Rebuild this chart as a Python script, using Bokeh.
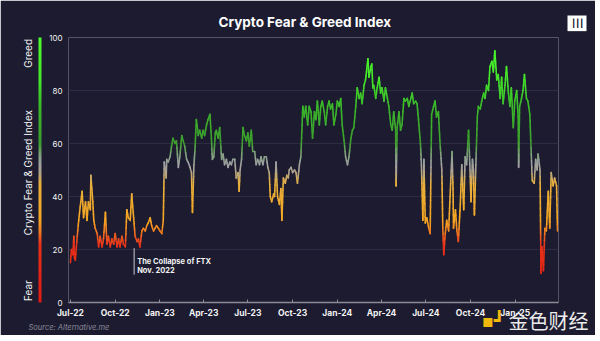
import numpy as np
import pandas as pd
from bokeh.plotting import figure
from bokeh.models import (ColumnDataSource, FixedTicker, Label, ColorBar,
                          LinearColorMapper, Range1d, Title)
from bokeh.embed import file_html
from bokeh.resources import INLINE

# ---------------- data ----------------
start_date = "2022-07-01"
day_offsets = [
    0, 2, 5, 7, 8, 10, 14, 17, 20, 24, 27, 31, 34, 37, 41, 42, 46, 48, 51, 55,
    58, 61, 65, 68, 72, 75, 78, 82, 85, 89, 92, 96, 99, 102, 106, 109, 113, 116, 119, 123,
    126, 130, 133, 137, 140, 143, 147, 150, 154, 157, 160, 164, 167, 171, 174, 177, 181, 184, 188, 191,
    193, 197, 198, 201, 205, 208, 211, 215, 218, 222, 225, 229, 232, 235, 239, 242, 246, 249, 251, 254,
    256, 259, 263, 266, 270, 273, 276, 280, 283, 287, 290, 292, 295, 298, 300, 304, 307, 311, 314, 317,
    321, 324, 328, 331, 334, 338, 341, 345, 347, 349, 352, 355, 358, 362, 365, 368, 372, 375, 379, 382,
    385, 389, 392, 396, 399, 403, 406, 409, 411, 414, 418, 420, 423, 426, 430, 433, 435, 438, 442, 445,
    448, 450, 454, 457, 461, 464, 467, 471, 474, 478, 481, 484, 488, 491, 495, 498, 502, 505, 508, 512,
    515, 518, 522, 525, 529, 532, 535, 539, 542, 546, 549, 553, 556, 559, 563, 566, 570,
    573, 577, 580, 583, 587, 590, 594, 597, 600, 604, 607, 609, 612, 614, 618, 620, 622, 624, 628, 631,
    635, 638, 641, 645, 648, 652, 655, 659, 662, 665, 669, 670, 672, 676, 679, 682, 686, 689, 693, 696,
    699, 703, 706, 710, 713, 716, 720, 722, 725, 727, 730, 733, 737, 740, 743, 747, 750, 753,
    757, 760, 764, 766, 768, 771, 774, 778, 781, 785, 787, 788, 792, 795, 798, 802, 805, 809, 812, 815,
    819, 822, 824, 827, 829, 831, 834, 837, 839, 843, 846, 850, 853, 856, 860, 863, 867, 870, 873, 877,
    880, 884, 887, 890, 894, 897, 901, 904, 907, 911, 914, 918, 921, 922, 924, 928, 931, 934, 938, 941,
    945, 947, 950, 954, 957, 960, 962, 966, 968, 970, 973, 976, 979, 983, 986, 989, 993, 996, 1000, 1002,
]
fg_index = [
    15, 20, 18, 25, 17, 16, 25, 31, 36, 42, 32, 38, 31, 38, 35, 48, 38, 31, 28, 26,
    21, 25, 21, 24, 34, 22, 25, 21, 24, 22, 26, 21, 24, 21, 25, 22, 21, 35, 32, 31,
    41, 32, 25, 23, 24, 21, 27, 28, 27, 29, 30, 32, 29, 27, 28, 29, 28, 27, 26, 31,
    53, 47, 54, 53, 55, 59, 62, 60, 61, 51, 55, 63, 61, 59, 54, 53, 51, 49, 34, 52,
    57, 69, 63, 65, 62, 65, 63, 67, 69, 71, 62, 54, 55, 64, 65, 62, 66, 54, 56, 52,
    54, 51, 53, 52, 54, 54, 47, 49, 42, 50, 54, 66, 63, 61, 64, 59, 65, 57, 57, 52,
    54, 52, 55, 52, 55, 55, 51, 49, 40, 38, 41, 40, 53, 40, 37, 43, 31, 47, 45, 48,
    47, 50, 51, 49, 50, 49, 45, 52, 55, 74, 70, 74, 67, 74, 72, 62, 72, 69, 76, 67,
    74, 76, 72, 67, 74, 76, 73, 75, 67, 71, 76, 74, 77, 67, 61, 55, 52,
    55, 62, 65, 66, 74, 81, 77, 79, 75, 82, 84, 87, 92, 85, 89, 90, 81, 82, 77, 81,
    85, 79, 81, 76, 81, 77, 74, 67, 65, 72, 65, 44, 66, 72, 65, 67, 77, 76, 77, 74,
    76, 79, 75, 76, 75, 69, 60, 52, 31, 54, 30, 32, 28, 26, 71, 74, 76, 70,
    72, 61, 50, 28, 18, 26, 31, 27, 40, 57, 43, 28, 35, 27, 23, 37, 52, 35, 55, 52,
    65, 50, 38, 54, 50, 33, 52, 70, 74, 73, 76, 79, 77, 82, 80, 89, 91, 87, 95, 84,
    86, 77, 85, 75, 82, 89, 79, 74, 81, 66, 76, 80, 70, 51, 74, 77, 80, 86, 77, 76,
    71, 61, 46, 45, 54, 50, 56, 50, 11, 21, 12, 28, 27, 42, 28, 49, 44, 47, 44, 27,
]
tick_dates = ["2022-07-01", "2022-10-01", "2023-01-01", "2023-04-01", "2023-07-01",
              "2023-10-01", "2024-01-01", "2024-04-01", "2024-07-01", "2024-10-01",
              "2025-01-01"]
tick_labels = ["Jul-22", "Oct-22", "Jan-23", "Apr-23", "Jul-23", "Oct-23",
               "Jan-24", "Apr-24", "Jul-24", "Oct-24", "Jan-25"]
y_ticks = [0, 20, 40, 60, 80, 100]
ftx_date = "2022-11-09"
ftx_lines = ["The Collapse of FTX", "Nov. 2022"]
chart_title = "Crypto Fear & Greed Index"
side_texts = ["Fear", "Crypto Fear & Greed Index", "Greed"]
source_text = "Source: Alternative.me"
watermark_text = "金色财经"

# ---------------- styling helpers ----------------
BG = "#1c1b2f"
NB = "\u00a0"
stops = [(0, "#e01a12"), (22, "#e8321a"), (27, "#f07d22"), (31, "#f5a623"),
         (45, "#e9b03c"), (49, "#b0a48a"), (52, "#a0a0a4"), (56, "#7fa07a"),
         (60, "#3d9d2e"), (74, "#3ab82a"), (84, "#44e62a"), (100, "#4cff2c")]


def _rgb(h):
    return np.array([int(h[i:i + 2], 16) for i in (1, 3, 5)], dtype=float)


def grad(v):
    v = min(max(v, 0), 100)
    for (a, ca), (b, cb) in zip(stops[:-1], stops[1:]):
        if v <= b:
            t = (v - a) / (b - a)
            c = _rgb(ca) * (1 - t) + _rgb(cb) * t
            return "#%02x%02x%02x" % tuple(int(round(x)) for x in c)
    return stops[-1][1]


def ms(d):
    return pd.Timestamp(d).timestamp() * 1000.0


dates = pd.Timestamp(start_date) + pd.to_timedelta(day_offsets, unit="D")
t_ms = np.array([d.timestamp() * 1000.0 for d in dates])
vals = np.array(fg_index, dtype=float)

# split each step into small pieces so the colour follows the value
x0s, x1s, y0s, y1s, cols = [], [], [], [], []
for i in range(len(vals) - 1):
    n = max(1, int(np.ceil(abs(vals[i + 1] - vals[i]) / 2.5)))
    for k in range(n):
        a, b = k / n, (k + 1) / n
        xa = t_ms[i] + (t_ms[i + 1] - t_ms[i]) * a
        xb = t_ms[i] + (t_ms[i + 1] - t_ms[i]) * b
        ya = vals[i] + (vals[i + 1] - vals[i]) * a
        yb = vals[i] + (vals[i + 1] - vals[i]) * b
        x0s.append(xa); x1s.append(xb); y0s.append(ya); y1s.append(yb)
        cols.append(grad((ya + yb) / 2))
seg_src = ColumnDataSource(dict(x0=x0s, x1=x1s, y0=y0s, y1=y1s, c=cols))

# ---------------- figure ----------------
p = figure(width=595, height=335, x_axis_type="datetime",
           x_range=Range1d(ms("2022-06-27"), ms("2025-03-31")),
           y_range=Range1d(0, 100),
           output_backend="svg", toolbar_location=None,
           background_fill_color=BG, border_fill_color=BG,
           min_border_left=68, min_border_right=35,
           min_border_top=37, min_border_bottom=33)
p.outline_line_color = None
p.xgrid.visible = False
p.ygrid.ticker = FixedTicker(ticks=[20, 40, 60, 80, 100])
p.ygrid.grid_line_color = "#2d2c43"
p.ygrid.grid_line_width = 1

# title (above)
p.title.text = chart_title
p.title.align = "left"
p.title.offset = 150
p.title.vertical_align = "middle"
p.title.standoff = 14
p.title.text_color = "#ffffff"
p.title.text_font = "Inter"
p.title.text_font_style = "bold"
p.title.text_font_size = "13.5px"

# axes
p.xaxis.ticker = FixedTicker(ticks=[ms(d) for d in tick_dates])
p.xaxis.major_label_overrides = {ms(d): l for d, l in zip(tick_dates, tick_labels)}
p.xaxis.axis_line_color = "#8c8c98"
p.xaxis.axis_line_width = 1.5
p.xaxis.major_tick_line_color = "#8c8c98"
p.xaxis.major_tick_in = 3
p.xaxis.major_tick_out = 0
p.xaxis.minor_tick_line_color = None
p.xaxis.major_label_text_color = "#f2f2f2"
p.xaxis.major_label_text_font = "Inter"
p.xaxis.major_label_text_font_style = "bold"
p.xaxis.major_label_text_font_size = "8.5px"
p.xaxis.major_label_standoff = 5

p.yaxis.ticker = FixedTicker(ticks=y_ticks)
p.yaxis.axis_line_color = None
p.yaxis.major_tick_line_color = None
p.yaxis.minor_tick_line_color = None
p.yaxis.major_tick_out = 0
p.yaxis.major_label_standoff = 6
p.yaxis.major_label_text_color = "#f2f2f2"
p.yaxis.major_label_text_font = "Inter"
p.yaxis.major_label_text_font_size = "8px"
p.yaxis.axis_label = NB          # tiny spacer between tick labels and the bar
p.yaxis.axis_label_text_font_size = "1px"
p.yaxis.axis_label_standoff = 1

# gradient bar at the left
palette = [grad(v) for v in np.linspace(0, 100, 256)]
cb = ColorBar(color_mapper=LinearColorMapper(palette=palette, low=0, high=100),
              width=3, padding=0, margin=0, bar_line_color=None,
              major_tick_line_color=None, minor_tick_line_color=None,
              major_label_text_font_size="0px", ticker=FixedTicker(ticks=[]),
              background_fill_color=None, border_line_color=None, label_standoff=0)
p.add_layout(cb, "left")

# rotated side text: Fear ... Crypto Fear & Greed Index ... Greed
side = side_texts[0] + NB * 16 + side_texts[1] + NB * 15 + side_texts[2]
p.add_layout(Title(text=side, align="center", vertical_align="middle", standoff=7,
                   text_color="#f2f2f2", text_font="Inter", text_font_style="normal",
                   text_font_size="10px"), "left")

# logo (right panel, rotated trigram => three vertical bars)
p.add_layout(Title(text="☰", align="left", offset=-22, vertical_align="middle",
                   standoff=16, text_color="#1c1b2f", text_font="DejaVu Sans",
                   text_font_style="bold", text_font_size="13px",
                   background_fill_color="#ffffff", padding=2), "right")

# watermark + source (below): icon and watermark take almost no height,
# so the source line sits right under the axis labels
p.add_layout(Title(text="▪┛", align="left", offset=413, vertical_align="middle",
                   standoff=-24, text_color="#f0b90b", text_font="DejaVu Sans",
                   text_font_style="bold", text_font_size="18px"), "below")
p.add_layout(Title(text=watermark_text, align="left", offset=440, vertical_align="middle",
                   standoff=-32, text_color="#ececec", text_font="Noto Sans CJK SC",
                   text_font_style="normal", text_font_size="20px"), "below")
p.add_layout(Title(text=source_text, align="left", offset=-40, vertical_align="middle",
                   standoff=2, text_color="#8d8d9c", text_font="Inter",
                   text_font_style="italic", text_font_size="7.5px"), "below")

# the index line
p.segment(x0="x0", y0="y0", x1="x1", y1="y1", color="c", line_width=1.6,
          line_cap="round", source=seg_src)

# FTX annotation
p.segment(x0=[ms(ftx_date)], x1=[ms(ftx_date)], y0=[20.5], y1=[10.5],
          line_color="#c8c8d2", line_width=1)
for txt, yy in zip(ftx_lines, [15.3, 12.1]):
    p.add_layout(Label(x=ms(ftx_date), y=yy, x_offset=3, text=txt,
                       text_color="#f2f2f2", text_font="Inter",
                       text_font_style="bold", text_font_size="7.5px",
                       text_baseline="middle", text_align="left"))

open("out.html", "w").write(file_html(p, INLINE))
